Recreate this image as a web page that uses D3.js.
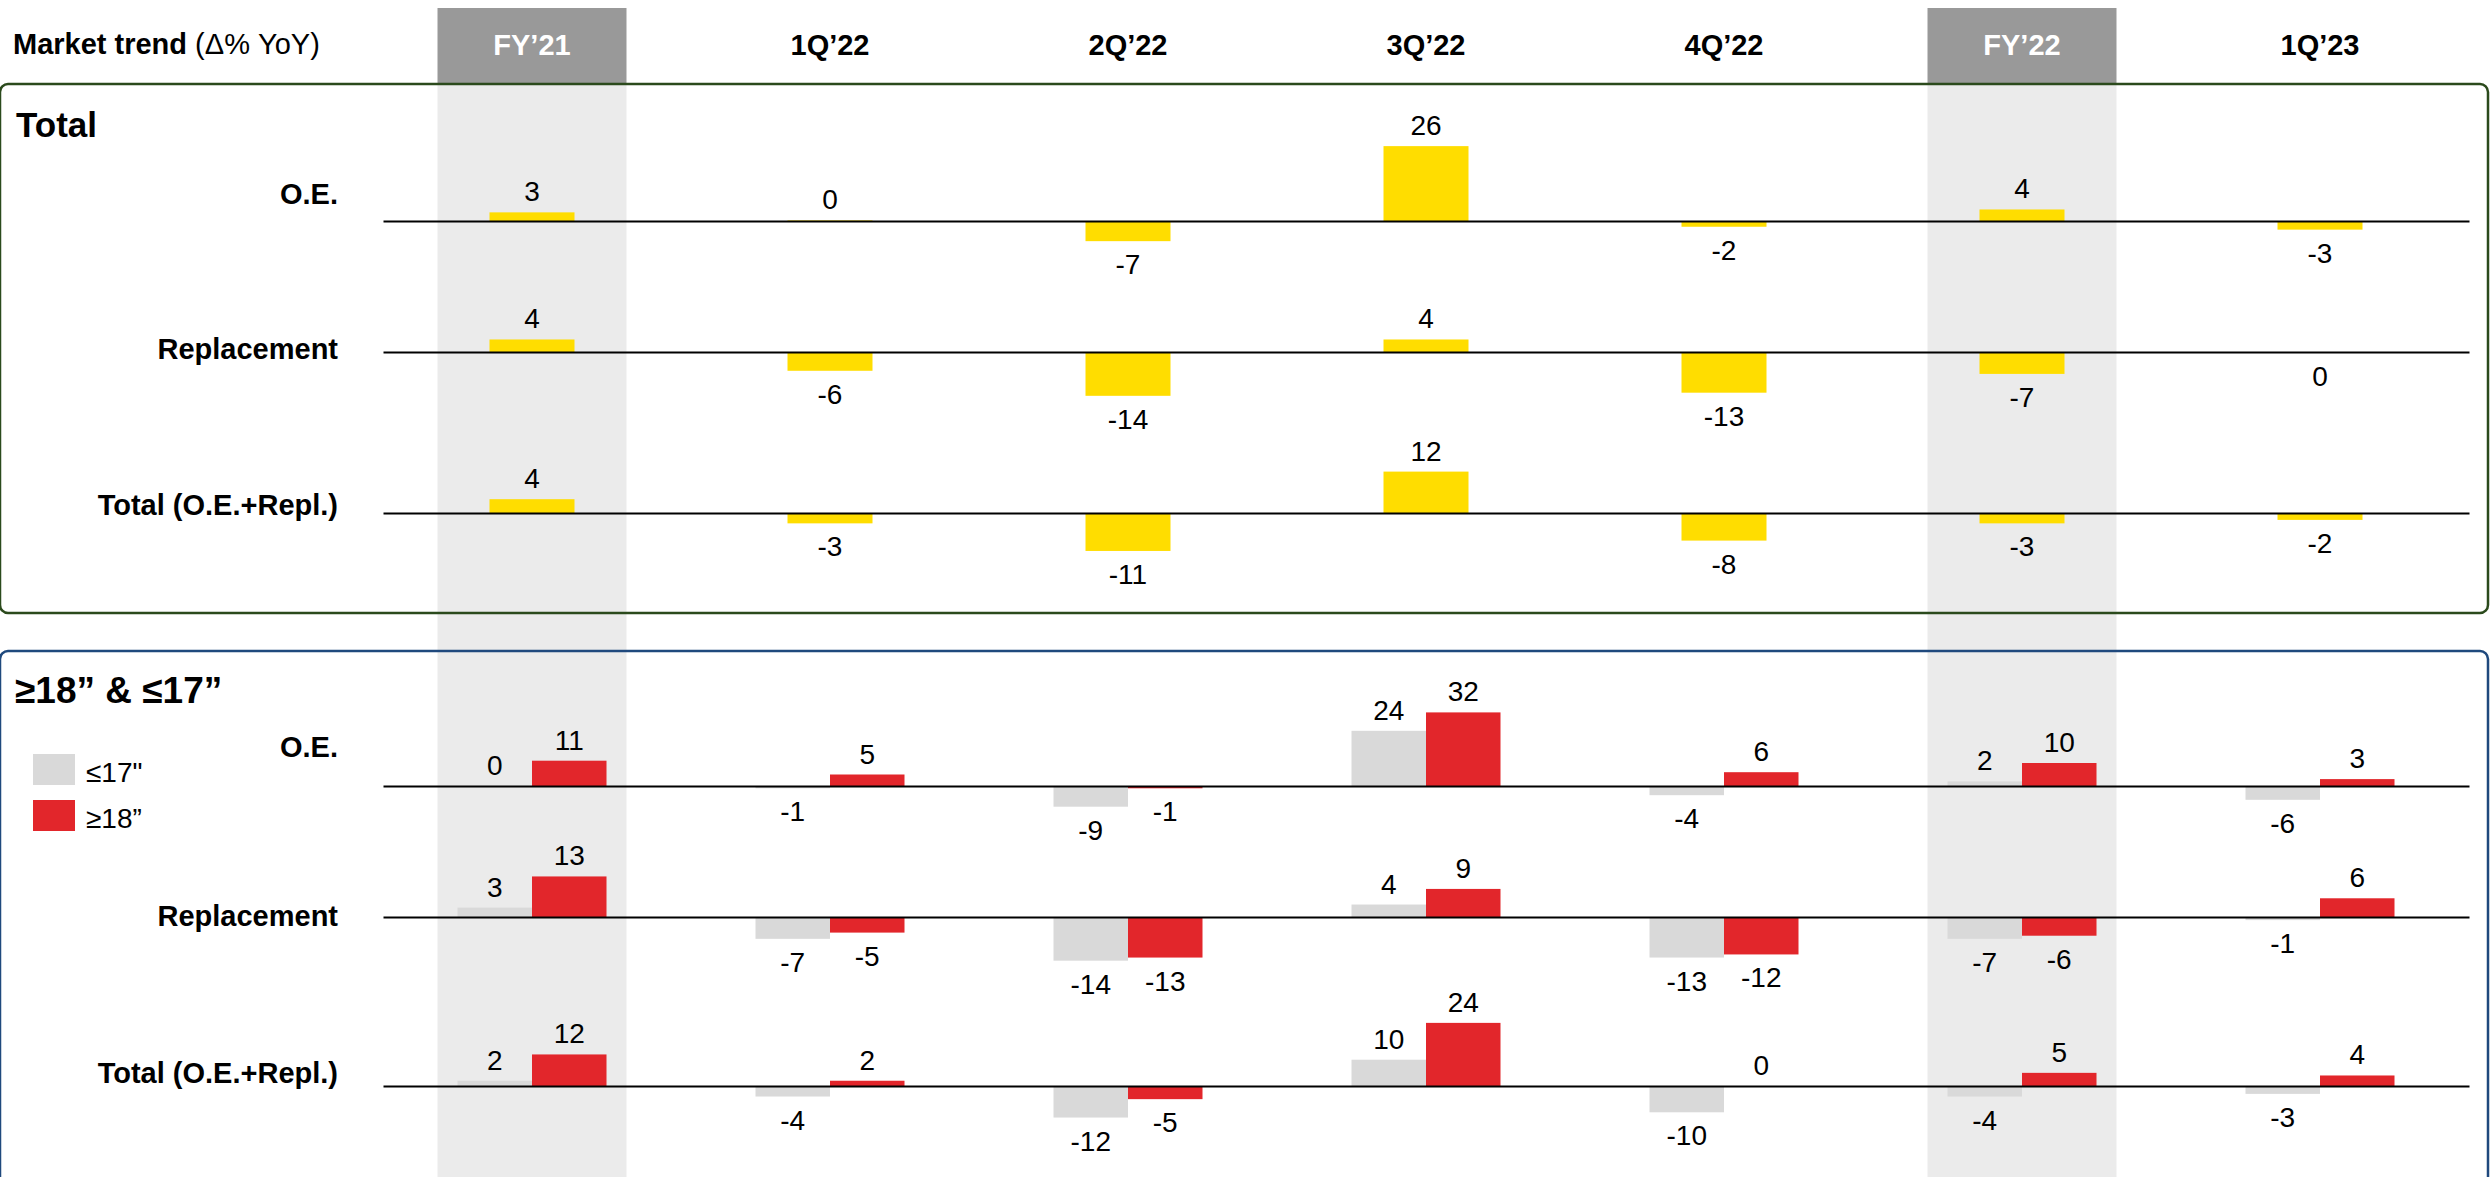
<!DOCTYPE html>
<html>
<head>
<meta charset="utf-8">
<script src="https://cdn.jsdelivr.net/npm/d3@7"></script>
<style>
  html, body { margin: 0; padding: 0; background: #fff; }
  svg { display: block; font-family: "Liberation Sans", Arial, sans-serif; }
</style>
</head>
<body>
<svg id="chart" width="2491" height="1177"></svg>
<script>
// ---------------- DATA ----------------
const categories = ["FY’21", "1Q’22", "2Q’22", "3Q’22", "4Q’22", "FY’22", "1Q’23"];
const highlighted = ["FY’21", "FY’22"];

// Total panel (Δ% YoY)
const totalOE    = [3, 0.2, -7, 26, -2, 4, -3];
const totalRepl  = [4, -6, -14, 4, -13, -7, -0.2];
const totalAll   = [4, -3, -11, 12, -8, -3, -2];

// ≥18” & ≤17” panel (Δ% YoY)
const oeUpTo17    = [0, -1, -9, 24, -4, 2, -6];
const oeFrom18    = [11, 5, -1, 32, 6, 10, 3];
const replUpTo17  = [3, -7, -14, 4, -13, -7, -1];
const replFrom18  = [13, -5, -13, 9, -12, -6, 6];
const allUpTo17   = [2, -4, -12, 10, -10, -4, -3];
const allFrom18   = [12, 2, -5, 24, 0, 5, 4];

const rowLabels = ["O.E.", "Replacement", "Total (O.E.+Repl.)"];
const seriesNames = ["≤17\"", "≥18”"];

// ---------------- STYLE / LAYOUT ----------------
const COL_YELLOW = "#ffdd00";
const COL_GREY = "#d9d9d9";
const COL_RED = "#e2262b";
const COL_SHADE = "#ebebeb";
const COL_HEAD = "#999999";
const COL_GREEN = "#2b4a1c";
const COL_BLUE = "#1f497d";

const svg = d3.select("#chart");
const W = 2491, H = 1177;

const x = d3.scaleBand().domain(categories).range([383, 2469]).padding(0);
const bw = x.bandwidth();
const shadeW = 189;

// shaded columns
svg.append("g").selectAll("rect.shade").data(highlighted).join("rect")
  .attr("x", d => x(d) + (bw - shadeW) / 2).attr("y", 83)
  .attr("width", shadeW).attr("height", H - 83)
  .attr("fill", COL_SHADE);
svg.append("g").selectAll("rect.head").data(highlighted).join("rect")
  .attr("x", d => x(d) + (bw - shadeW) / 2).attr("y", 8)
  .attr("width", shadeW).attr("height", 76)
  .attr("fill", COL_HEAD);

// header axis
const headAxis = svg.append("g").attr("transform", "translate(0,58)")
  .call(d3.axisTop(x).tickSize(0).tickPadding(3));
headAxis.select(".domain").remove();
headAxis.selectAll("text")
  .attr("font-family", "Liberation Sans, Arial, sans-serif")
  .attr("font-size", 29).attr("font-weight", "bold")
  .attr("fill", d => highlighted.includes(d) ? "#ffffff" : "#000000");

const headTitle = svg.append("text").attr("x", 13).attr("y", 54).attr("font-size", 29);
headTitle.append("tspan").attr("font-weight", "bold").text("Market trend");
headTitle.append("tspan").text(" (Δ% YoY)");

// panel frames
svg.append("rect").attr("x", 0).attr("y", 84).attr("width", 2488).attr("height", 529)
  .attr("rx", 8).attr("fill", "none").attr("stroke", COL_GREEN).attr("stroke-width", 2.5);
svg.append("rect").attr("x", 0).attr("y", 651).attr("width", 2488).attr("height", 640)
  .attr("rx", 8).attr("fill", "none").attr("stroke", COL_BLUE).attr("stroke-width", 2.5);

// panel titles
svg.append("text").attr("x", 16).attr("y", 137).attr("font-size", 35).attr("font-weight", "bold").text("Total");
svg.append("text").attr("x", 15).attr("y", 703).attr("font-size", 37).attr("font-weight", "bold").text("≥18” & ≤17”");

// legend
const legend = svg.append("g");
[COL_GREY, COL_RED].forEach((c, i) => {
  legend.append("rect").attr("x", 33).attr("y", 754 + i * 46).attr("width", 42).attr("height", 31).attr("fill", c);
  legend.append("text").attr("x", 86).attr("y", 782 + i * 46).attr("font-size", 28).text(seriesNames[i]);
});

const fmt = v => String(Math.round(v));

function drawRow(cfg, seriesList) {
  const g = svg.append("g");
  const y = d3.scaleLinear().domain([-10, 10]).range([cfg.zero + 10 * cfg.k, cfg.zero - 10 * cfg.k]);
  const nS = seriesList.length;
  const barW = cfg.barW;
  const groupW = barW * nS;
  seriesList.forEach((s, si) => {
    const data = categories.map((c, i) => ({ c, v: s.values[i] }));
    const bx = d => x(d.c) + bw / 2 - groupW / 2 + si * barW;
    g.selectAll(null).data(data).join("rect")
      .attr("x", bx)
      .attr("y", d => Math.min(y(d.v), y(0)))
      .attr("width", barW)
      .attr("height", d => Math.abs(y(d.v) - y(0)))
      .attr("fill", s.color);
    g.selectAll(null).data(data).join("text")
      .attr("x", d => bx(d) + barW / 2)
      .attr("y", d => d.v >= 0 ? y(d.v) - 11 : y(d.v) + 33)
      .attr("text-anchor", "middle")
      .attr("font-size", 28)
      .text(d => fmt(d.v));
  });
  // zero axis line
  const ax = g.append("g").attr("transform", `translate(0,${cfg.zero})`)
    .call(d3.axisBottom(x).tickValues([]).tickSizeOuter(0));
  ax.select(".domain").attr("stroke", "#000").attr("stroke-width", 2.2);
  // row label
  g.append("text").attr("x", 338).attr("y", cfg.labelY)
    .attr("text-anchor", "end").attr("font-size", 29).attr("font-weight", "bold")
    .text(cfg.label);
}

// Total panel rows
drawRow({ label: rowLabels[0], zero: 221, labelY: 204, k: 2.88, barW: 85 }, [{ values: totalOE, color: COL_YELLOW }]);
drawRow({ label: rowLabels[1], zero: 352, labelY: 359, k: 3.13, barW: 85 }, [{ values: totalRepl, color: COL_YELLOW }]);
drawRow({ label: rowLabels[2], zero: 513, labelY: 515, k: 3.45, barW: 85 }, [{ values: totalAll, color: COL_YELLOW }]);

// ≥18” & ≤17” panel rows
drawRow({ label: rowLabels[0], zero: 786, labelY: 757, k: 2.3, barW: 74.5 },
  [{ values: oeUpTo17, color: COL_GREY }, { values: oeFrom18, color: COL_RED }]);
drawRow({ label: rowLabels[1], zero: 917, labelY: 926, k: 3.12, barW: 74.5 },
  [{ values: replUpTo17, color: COL_GREY }, { values: replFrom18, color: COL_RED }]);
drawRow({ label: rowLabels[2], zero: 1086, labelY: 1083, k: 2.63, barW: 74.5 },
  [{ values: allUpTo17, color: COL_GREY }, { values: allFrom18, color: COL_RED }]);
</script>
</body>
</html>
